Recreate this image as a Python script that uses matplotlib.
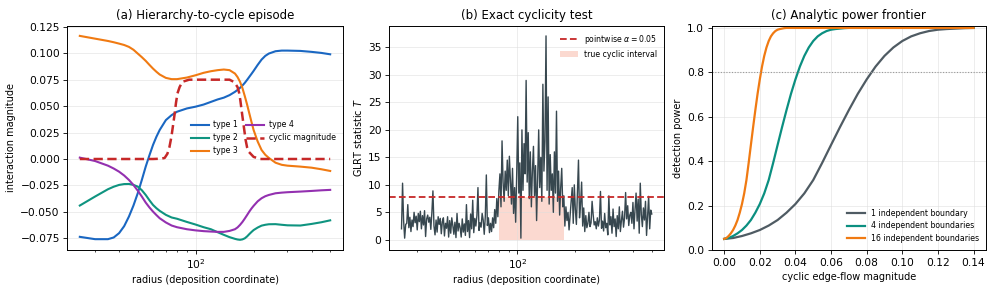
import numpy as np
import matplotlib
matplotlib.use("Agg")
import matplotlib.pyplot as plt
from matplotlib.patches import Patch
from matplotlib.lines import Line2D

# ---------------- data ----------------
# (a) interaction magnitudes vs radius
radius_a = [25, 30, 35, 37.5, 40, 42.5, 45, 47.5, 50, 52.5, 55, 57.5, 60, 62.5, 65, 70, 75,
            80, 90, 100, 110, 120, 130, 140, 150, 160, 165, 170, 175, 180, 185, 190, 195,
            200, 210, 220, 230, 240, 260, 280, 300, 350, 400, 450, 500]
type1 = [-0.0736, -0.0758, -0.0758, -0.0742, -0.0701, -0.0635, -0.0544, -0.0440, -0.0324,
         -0.0198, -0.0072, 0.0035, 0.0132, 0.0210, 0.0274, 0.0368, 0.0415, 0.0447, 0.0478,
         0.0495, 0.0515, 0.0540, 0.0563, 0.0580, 0.0604, 0.0635, 0.0653, 0.0673, 0.0695,
         0.0720, 0.0748, 0.0777, 0.0805, 0.0833, 0.0890, 0.0940, 0.0975, 0.0997, 0.1019,
         0.1025, 0.1025, 0.1022, 0.1013, 0.1003, 0.0990]
type2 = [-0.0440, -0.0355, -0.0286, -0.0262, -0.0245, -0.0237, -0.0236, -0.0245, -0.0261,
         -0.0295, -0.0340, -0.0390, -0.0434, -0.0465, -0.0490, -0.0528, -0.0553, -0.0565,
         -0.0595, -0.0620, -0.0645, -0.0664, -0.0692, -0.0717, -0.0739, -0.0755, -0.0761,
         -0.0764, -0.0760, -0.0750, -0.0732, -0.0710, -0.0690, -0.0672, -0.0648, -0.0630,
         -0.0622, -0.0617, -0.0616, -0.0622, -0.0627, -0.0629, -0.0614, -0.0598, -0.0580]
type3 = [0.1164, 0.1138, 0.1116, 0.1104, 0.1091, 0.1078, 0.1060, 0.1033, 0.0997, 0.0963,
         0.0928, 0.0890, 0.0855, 0.0825, 0.0799, 0.0767, 0.0755, 0.0755, 0.0770, 0.0792,
         0.0815, 0.0830, 0.0840, 0.0846, 0.0840, 0.0808, 0.0775, 0.0730, 0.0670, 0.0594,
         0.0515, 0.0431, 0.0350, 0.0274, 0.0165, 0.0085, 0.0040, 0.0010, -0.0035, -0.0055,
         -0.0063, -0.0072, -0.0082, -0.0097, -0.0113]
type4 = [0.0013, -0.0019, -0.0063, -0.0090, -0.0120, -0.0156, -0.0198, -0.0246, -0.0299,
         -0.0355, -0.0412, -0.0458, -0.0497, -0.0530, -0.0560, -0.0600, -0.0629, -0.0645,
         -0.0664, -0.0675, -0.0682, -0.0686, -0.0689, -0.0689, -0.0680, -0.0664, -0.0647,
         -0.0623, -0.0595, -0.0563, -0.0530, -0.0497, -0.0468, -0.0443, -0.0400, -0.0371,
         -0.0352, -0.0340, -0.0324, -0.0318, -0.0314, -0.0308, -0.0302, -0.0296, -0.0292]
radius_cyc = [25, 40, 60, 66, 69, 71.3, 73, 74.8, 76.3, 77.8, 79, 80.4, 82.5, 85.3, 92.5,
              100, 150, 157.5, 161, 165, 168, 170.6, 173, 176, 179, 181.8, 185, 188.4,
              200, 216.6, 300, 500]
cyclic = [0.0, 0.0, 0.0, 0.0003, 0.001, 0.005, 0.011, 0.021, 0.032, 0.043, 0.053, 0.062,
          0.068, 0.073, 0.075, 0.075, 0.075, 0.073, 0.071, 0.068, 0.063, 0.0557, 0.047,
          0.0368, 0.027, 0.018, 0.011, 0.007, 0.002, 0.0, 0.0, 0.0]

# (b) GLRT statistic along radius (log-spaced radii from 25 to 500)
glrt_T = [
    2.0, 10.3, 3.5, 0.3, 2.8, 3.0, 6.4, 2.2, 4.1, 1.5,
    3.6, 2.4, 5.0, 3.1, 4.3, 1.8, 4.8, 3.3, 5.2, 2.0,
    4.4, 2.7, 5.3, 0.6, 3.8, 4.5, 3.2, 4.1, 1.9, 5.0,
    8.9, 2.5, 0.9, 3.6, 1.4, 4.2, 2.8, 3.9, 1.1, 3.3,
    4.0, 0.7, 3.0, 2.1, 4.2, 0.5, 3.5, 1.2, 4.0, 2.6,
    1.0, 3.2, 0.4, 4.8, 1.6, 3.0, 2.2, 0.5, 3.8, 1.4,
    2.9, 0.8, 6.4, 1.5, 3.5, 0.4, 4.7, 2.0, 7.2, 1.3,
    3.9, 2.5, 4.4, 9.5, 1.7, 3.1, 2.3, 4.8, 3.6, 1.0,
    4.2, 11.8, 2.6, 4.0, 1.3, 3.0, 1.5, 4.0, 2.2, 5.5,
    3.0, 7.5, 4.2, 9.0, 12.0, 6.0, 18.0, 10.5, 7.0, 12.5,
    9.0, 14.5, 8.0, 15.2, 11.0, 6.5, 13.0, 4.8, 9.5, 3.2,
    12.0, 22.4, 8.5, 14.0, 0.3, 20.0, 9.0, 17.5, 12.0, 29.0,
    10.5, 19.5, 7.5, 16.0, 6.0, 12.5, 17.0, 8.0, 13.5, 3.5,
    11.0, 20.0, 9.5, 15.0, 7.0, 28.3, 12.5, 18.0, 37.1, 9.0,
    26.0, 6.5, 15.5, 9.0, 12.0, 5.0, 16.0, 8.5, 23.4, 7.0,
    12.5, 4.5, 9.5, 13.0, 6.0, 8.0, 2.5, 6.0, 3.5, 5.0,
    1.8, 4.5, 7.0, 9.5, 3.0, 10.0, 5.5, 2.8, 8.5, 14.5,
    4.0, 6.5, 10.5, 2.5, 5.8, 1.5, 4.4, 2.2, 3.0, 5.0,
    2.4, 3.1, 7.0, 4.6, 2.7, 3.3, 2.0, 4.0, 2.5, 3.6,
    8.8, 2.1, 3.4, 1.6, 4.8, 2.2, 3.0, 0.9, 8.0, 2.7,
    4.2, 1.2, 5.6, 2.4, 3.8, 0.6, 4.4, 2.0, 6.0, 1.5,
    3.5, 5.2, 2.3, 4.0, 8.6, 3.8, 6.2, 2.6, 4.5, 5.0,
    3.0, 6.8, 2.0, 5.5, 8.5, 3.4, 7.4, 1.2, 10.3, 4.6,
    2.4, 5.8, 3.6, 7.0, 0.8, 4.2, 7.9, 2.0, 5.4, 4.7,
]
threshold = 7.81
cyclic_interval = [80, 175]

# (c) analytic power frontier
mag_1 = [0.000, 0.005, 0.010, 0.015, 0.020, 0.025, 0.030, 0.035, 0.040, 0.045, 0.050,
         0.055, 0.060, 0.065, 0.070, 0.075, 0.080, 0.085, 0.090, 0.095, 0.100, 0.105,
         0.110, 0.115, 0.120, 0.125, 0.130, 0.135, 0.140]
power_1 = [0.050, 0.054, 0.063, 0.075, 0.090, 0.110, 0.135, 0.168, 0.207, 0.255, 0.315,
           0.392, 0.473, 0.553, 0.630, 0.703, 0.768, 0.826, 0.874, 0.912, 0.941, 0.962,
           0.976, 0.986, 0.992, 0.995, 0.997, 0.999, 1.000]
mag_4 = [0.0000, 0.0025, 0.0050, 0.0075, 0.0100, 0.0125, 0.0150, 0.0175, 0.0200, 0.0225,
         0.0250, 0.0275, 0.0300, 0.0325, 0.0350, 0.0375, 0.0400, 0.0425, 0.0450, 0.0475,
         0.0500, 0.0525, 0.0550, 0.0575, 0.0600, 0.0625, 0.0650, 0.0675, 0.0700, 0.1000,
         0.1400]
power_4 = [0.050, 0.054, 0.063, 0.075, 0.090, 0.110, 0.135, 0.168, 0.207, 0.255, 0.315,
           0.392, 0.473, 0.553, 0.630, 0.703, 0.768, 0.826, 0.874, 0.912, 0.941, 0.962,
           0.976, 0.986, 0.992, 0.995, 0.997, 0.999, 1.000, 1.000, 1.000]
mag_16 = [0.00000, 0.00125, 0.00250, 0.00375, 0.00500, 0.00625, 0.00750, 0.00875, 0.01000,
          0.01125, 0.01250, 0.01375, 0.01500, 0.01625, 0.01750, 0.01875, 0.02000, 0.02125,
          0.02250, 0.02375, 0.02500, 0.02625, 0.02750, 0.02875, 0.03000, 0.03125, 0.03250,
          0.03375, 0.03500, 0.07000, 0.14000]
power_16 = [0.050, 0.054, 0.063, 0.075, 0.090, 0.110, 0.135, 0.168, 0.207, 0.255, 0.315,
            0.392, 0.473, 0.553, 0.630, 0.703, 0.768, 0.826, 0.874, 0.912, 0.941, 0.962,
            0.976, 0.986, 0.992, 0.995, 0.997, 0.999, 1.000, 1.000, 1.000]
power_target = 0.8

# ---------------- style ----------------
plt.rcParams.update({
    "font.family": ["DejaVu Sans"],
    "font.size": 7.7,
    "axes.titlesize": 8.5,
    "axes.labelsize": 7.0,
    "xtick.labelsize": 7.7,
    "ytick.labelsize": 7.7,
    "axes.linewidth": 0.7,
    "xtick.major.size": 2.7, "ytick.major.size": 2.7,
    "xtick.minor.size": 1.5, "ytick.minor.size": 1.5,
    "xtick.major.width": 0.6, "ytick.major.width": 0.6,
    "xtick.minor.width": 0.5, "ytick.minor.width": 0.5,
    "xtick.major.pad": 2.7, "ytick.major.pad": 2.7,
    "axes.titlepad": 4.5,
    "axes.labelpad": 3.0,
})

C1, C2, C3, C4 = "#1a67c2", "#0f9480", "#f07a12", "#9330b0"
CRED = "#c62828"
CSLATE = "#37474f"
CGREY = "#4f5b63"

W, H = 997, 292
fig = plt.figure(figsize=(W / 100, H / 100), dpi=100)
bottom = (H - 250) / H
height = 224.3 / H
ax_a = fig.add_axes([67.3 / W, bottom, 275.4 / W, height])
ax_b = fig.add_axes([389.0 / W, bottom, 275.3 / W, height])
ax_c = fig.add_axes([711.7 / W, bottom, 274.3 / W, height])

grid_kw = dict(color="#dddddd", linewidth=0.6, alpha=0.6)

# ---------------- (a) ----------------
ax_a.plot(radius_a, type1, color=C1, lw=1.5, label="type 1")
ax_a.plot(radius_a, type2, color=C2, lw=1.5, label="type 2")
ax_a.plot(radius_a, type3, color=C3, lw=1.5, label="type 3")
ax_a.plot(radius_a, type4, color=C4, lw=1.5, label="type 4")
ax_a.plot(radius_cyc, cyclic, color=CRED, lw=1.8, ls=(0, (3.7, 1.8)), label="cyclic magnitude")
ax_a.set_xscale("log")
ax_a.set_title("(a) Hierarchy-to-cycle episode")
ax_a.set_xlabel("radius (deposition coordinate)")
ax_a.set_ylabel("interaction magnitude")
ax_a.set_yticks([-0.075, -0.05, -0.025, 0.0, 0.025, 0.05, 0.075, 0.1, 0.125])
ax_a.grid(True, which="major", **grid_kw)
ax_a.legend(loc="center right", ncol=2, fontsize=5.6, frameon=False,
            handlelength=2.3, columnspacing=1.0, labelspacing=0.5, handletextpad=0.6,
            bbox_to_anchor=(1.0, 0.5))

# ---------------- (b) ----------------
radius_b = np.geomspace(25, 500, len(glrt_T))
mask = (radius_b >= cyclic_interval[0]) & (radius_b <= cyclic_interval[1])
ax_b.fill_between(radius_b, 0, threshold, where=mask, color="#fbd9d0", lw=0)
ax_b.plot(radius_b, glrt_T, color=CSLATE, lw=1.0)
ax_b.axhline(threshold, color=CRED, lw=1.3, ls=(0, (3.7, 1.8)))
ax_b.set_xscale("log")
ax_b.set_title("(b) Exact cyclicity test")
ax_b.set_xlabel("radius (deposition coordinate)")
ax_b.set_ylabel("GLRT statistic $T$")
ax_b.set_yticks([0, 5, 10, 15, 20, 25, 30, 35])
ax_b.grid(True, which="major", **grid_kw)
handles_b = [Line2D([], [], color=CRED, lw=1.3, ls=(0, (3.7, 1.8))),
             Patch(facecolor="#fbd9d0", edgecolor="none")]
ax_b.legend(handles_b, ["pointwise $\\alpha = 0.05$", "true cyclic interval"],
            loc="upper right", fontsize=5.6, frameon=False, handlelength=2.3,
            handletextpad=0.8, labelspacing=0.5)

# ---------------- (c) ----------------
ax_c.plot(mag_1, power_1, color=CGREY, lw=1.6, label="1 independent boundary")
ax_c.plot(mag_4, power_4, color="#0b8f80", lw=1.6, label="4 independent boundaries")
ax_c.plot(mag_16, power_16, color=C3, lw=1.6, label="16 independent boundaries")
ax_c.axhline(power_target, color="#999999", lw=0.8, ls=(0, (1, 1.5)))
ax_c.set_ylim(0, 1.01)
ax_c.set_xticks([0.0, 0.02, 0.04, 0.06, 0.08, 0.10, 0.12, 0.14])
ax_c.set_yticks([0.0, 0.2, 0.4, 0.6, 0.8, 1.0])
ax_c.set_title("(c) Analytic power frontier")
ax_c.set_xlabel("cyclic edge-flow magnitude")
ax_c.set_ylabel("detection power")
ax_c.grid(True, **grid_kw)
ax_c.legend(loc="lower right", fontsize=5.6, frameon=False, handlelength=2.3,
            handletextpad=0.8, labelspacing=0.45)

fig.savefig("out.png", dpi=100)
